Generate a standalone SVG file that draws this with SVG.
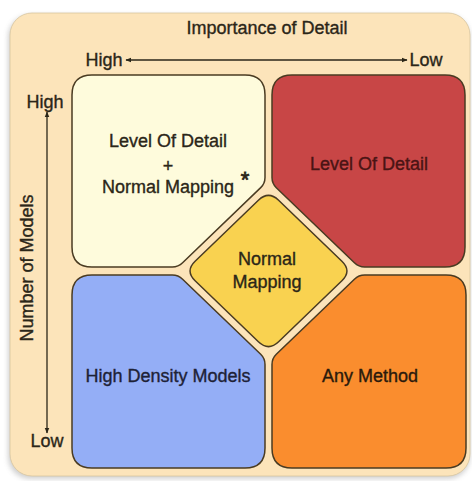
<svg xmlns="http://www.w3.org/2000/svg" width="472" height="481" viewBox="0 0 472 481">
<style>
.t{font-family:"Liberation Sans",Arial,sans-serif;font-size:18px;fill:#2b2618;stroke:#2b2618;stroke-width:0.35;text-anchor:middle}
.box{stroke:#4a3b22;stroke-width:1.5;stroke-linejoin:round}
.ax{stroke:#2b2618;stroke-width:1.3;fill:none}
</style>
<defs>
<marker id="ah" viewBox="0 0 10 10" refX="9" refY="5" markerWidth="6" markerHeight="6" markerUnits="userSpaceOnUse" orient="auto-start-reverse">
<path d="M0,1 L10,5 L0,9 Z" fill="#2b2618"/>
</marker>
<filter id="sh" x="-5%" y="-5%" width="110%" height="110%"><feGaussianBlur stdDeviation="2.5"/></filter>
</defs>
<rect width="472" height="481" fill="#ffffff"/>
<g id="background">
<rect x="8" y="15" width="462" height="464" rx="22" fill="#9a9a9a" opacity="0.45" filter="url(#sh)"/>
<rect x="10" y="13" width="460" height="463" rx="22" fill="#fce4ba" stroke="#d8c59e" stroke-width="0.8"/>
<text class="t" x="267" y="34">Importance of Detail</text>
<text class="t" x="104" y="66">High</text>
<text class="t" x="426" y="66">Low</text>
<text class="t" x="45" y="108">High</text>
<text class="t" x="47" y="447">Low</text>
<text class="t" transform="translate(33,268) rotate(-90)">Number of Models</text>
</g>
<g id="connectors">
<line class="ax" x1="126" y1="60" x2="407" y2="60" marker-start="url(#ah)" marker-end="url(#ah)"/>
<line class="ax" x1="47" y1="112" x2="47" y2="433" marker-start="url(#ah)" marker-end="url(#ah)"/>
</g>
<g id="lod-normal">
<path class="box" fill="#fefbdc" d="M 92,75 H 245 Q 265,75 265,95 V 177.4 Q 265,183.4 260.7,187.6 L 182.6,262.8 Q 178.3,267 172.3,267 H 92 Q 72,267 72,247 V 95 Q 72,75 92,75 Z"/>
<text class="t" x="168" y="147">Level Of Detail</text>
<text class="t" x="168" y="172">+</text>
<text class="t" x="168" y="193">Normal Mapping</text>
<text class="t" x="245" y="187" style="font-size:22px;stroke-width:0.8">*</text>
</g>
<g id="lod">
<path class="box" fill="#c84646" d="M 292,75 H 445 Q 465,75 465,95 V 247 Q 465,267 445,267 H 364.7 Q 358.7,267 354.4,262.8 L 276.3,187.7 Q 272,183.5 272,177.5 V 95 Q 272,75 292,75 Z"/>
<text class="t" x="369" y="170" style="fill:#4a1414;stroke:#4a1414">Level Of Detail</text>
</g>
<g id="high-density">
<path class="box" fill="#94aef6" d="M 92,275 H 172.3 Q 178.3,275 182.6,279.2 L 260.7,354.3 Q 265,358.5 265,364.5 V 448 Q 265,468 245,468 H 92 Q 72,468 72,448 V 295 Q 72,275 92,275 Z"/>
<text class="t" x="168" y="382" style="fill:#1e2236;stroke:#1e2236">High Density Models</text>
</g>
<g id="any-method">
<path class="box" fill="#fa8d2e" d="M 272,364.5 Q 272,358.5 276.3,354.3 L 354.4,279.2 Q 358.7,275 364.7,275 H 446 Q 466,275 466,295 V 448 Q 466,468 446,468 H 292 Q 272,468 272,448 Z"/>
<text class="t" x="370" y="382" style="fill:#2a1a0c;stroke:#2a1a0c">Any Method</text>
</g>
<g id="normal-mapping">
<path class="box" fill="#f9d250" d="M 258.4,200.2 Q 268.5,190.5 278.6,200.2 L 341.9,261.3 Q 352,271 341.9,280.7 L 278.6,341.8 Q 268.5,351.5 258.4,341.8 L 195.1,280.7 Q 185,271 195.1,261.3 Z"/>
<text class="t" x="267" y="265">Normal</text>
<text class="t" x="267" y="288">Mapping</text>
</g>
</svg>
